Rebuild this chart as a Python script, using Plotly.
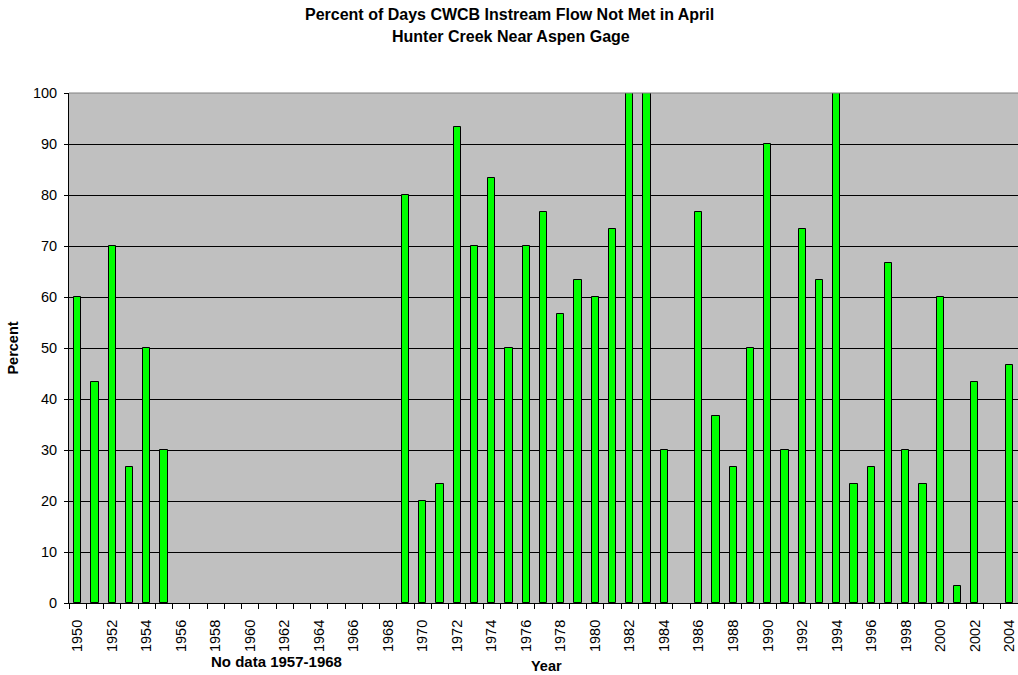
import plotly.graph_objects as go

years = list(range(1950, 2005))
percent = [
    60, 43.3, 70, 26.7, 50, 30,              # 1950-1955
    None, None, None, None, None, None, None, # 1956-1962
    None, None, None, None, None, None,       # 1963-1968
    80, 20, 23.3, 93.3, 70, 83.3, 50, 70,     # 1969-1976
    76.7, 56.7, 63.3, 60, 73.3, 100, 100, 30, # 1977-1984
    None, 76.7, 36.7, 26.7, 50, 90, 30,       # 1985-1991
    73.3, 63.3, 100, 23.3, 26.7, 66.7, 30,    # 1992-1998
    23.3, 60, 3.3, 43.3, None, 46.7,          # 1999-2004
]
tick_years = list(range(1950, 2005, 2))
tick_labels = [str(y) for y in tick_years]
boundaries = [y + 0.5 for y in range(1949, 2005)]

title_line1 = "Percent of Days CWCB Instream Flow Not Met in April"
title_line2 = "Hunter Creek Near Aspen Gage"
font_family = "Liberation Sans, Arial, sans-serif"

fig = go.Figure()
fig.add_trace(go.Bar(
    x=years, y=percent,
    width=0.42,
    marker=dict(color="#00FF00", line=dict(color="black", width=1)),
    showlegend=False,
))
# invisible trace on xaxis2 to carry boundary tick marks
fig.add_trace(go.Scatter(x=[1949.5], y=[0], xaxis="x2", mode="markers",
                         marker=dict(opacity=0), showlegend=False, hoverinfo="skip"))

W, H = 1018, 675
ML, MT, MB = 69, 93, 72
PW, PH = W - ML, H - MT - MB

x_lo, x_hi = 1949.5, 2004.5


def px_x(x):
    return (x - ML) / PW


def px_y(y):
    return (H - MB - y) / PH


fig.update_layout(
    width=W, height=H,
    margin=dict(l=ML, r=0, t=MT, b=MB),
    paper_bgcolor="white",
    plot_bgcolor="#C0C0C0",
    font=dict(family=font_family, size=14.5, color="black"),
    bargap=0,
    xaxis=dict(
        range=[x_lo, x_hi], tickmode="array", tickvals=tick_years, ticktext=tick_labels,
        tickangle=-90, ticks="", showgrid=False, zeroline=False,
        showline=True, linecolor="black", linewidth=1,
        tickfont=dict(size=14.5),
        ticklabelstandoff=10,
    ),
    xaxis2=dict(
        overlaying="x", matches="x", range=[x_lo, x_hi], tickmode="array",
        tickvals=boundaries, ticks="outside", ticklen=5, tickcolor="black",
        showticklabels=False, showgrid=False, zeroline=False, side="bottom",
        showline=False,
    ),
    yaxis=dict(
        range=[0, 100], tickmode="array", tickvals=list(range(0, 101, 10)),
        ticks="outside", ticklen=4, tickcolor="black",
        showgrid=True, gridcolor="black", gridwidth=1, zeroline=False,
        showline=True, linecolor="black", linewidth=1,
        ticklabelstandoff=4, tickfont=dict(size=14.5),
        title=dict(text="<b>Percent</b>", font=dict(size=14.5), standoff=10),
    ),
    shapes=[
        dict(type="line", xref="paper", yref="paper", x0=0, x1=1, y0=1, y1=1,
             line=dict(color="#808080", width=1)),
    ],
    annotations=[
        dict(text="<b>" + title_line1 + "</b>", xref="paper", yref="paper",
             x=px_x(509), y=px_y(14.5), xanchor="center", yanchor="middle",
             showarrow=False, font=dict(size=16)),
        dict(text="<b>" + title_line2 + "</b>", xref="paper", yref="paper",
             x=px_x(511), y=px_y(37), xanchor="center", yanchor="middle",
             showarrow=False, font=dict(size=16)),
        dict(text="<b>No data 1957-1968</b>", xref="paper", yref="paper",
             x=px_x(276), y=px_y(661), xanchor="center", yanchor="middle",
             showarrow=False, font=dict(size=15)),
        dict(text="<b>Year</b>", xref="paper", yref="paper",
             x=px_x(546), y=px_y(666), xanchor="center", yanchor="middle",
             showarrow=False, font=dict(size=14.5)),
    ],
)
fig.write_html(
    "out.html",
    config={"displayModeBar": False},
    post_script="document.body.style.margin='0px';document.body.style.overflow='hidden';"
                "document.documentElement.style.overflow='hidden';",
)
